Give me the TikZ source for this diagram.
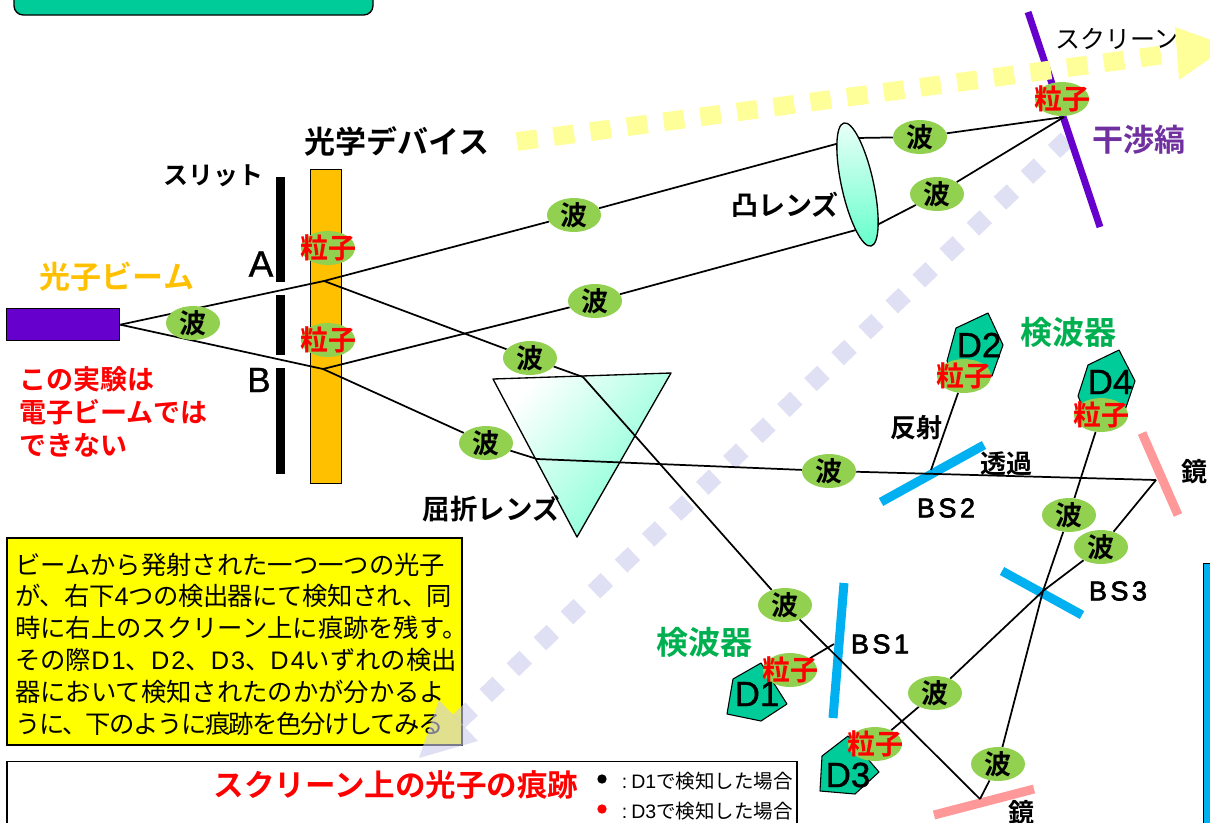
\documentclass[tikz,border=0pt]{standalone}
\usepackage{fontspec}
\setmainfont{Noto Sans CJK JP}
\newfontfamily\cjkb{Noto Sans CJK JP Bold}
\newfontfamily\lat{Liberation Sans}
\newfontfamily\latn[LetterSpace=8]{Liberation Sans}
\newfontfamily\latb[FakeBold=1]{Liberation Sans}
\newfontfamily\latsp[LetterSpace=13,FakeBold=2.5]{Liberation Sans}
\usetikzlibrary{shapes.geometric,backgrounds}
\pgfdeclarelayer{bg}\pgfdeclarelayer{lines}\pgfdeclarelayer{top}
\pgfsetlayers{bg,lines,main,top}
\definecolor{wavegreen}{HTML}{92D050}
\definecolor{detgreen}{HTML}{00CC99}
\definecolor{labgreen}{HTML}{00B050}
\definecolor{bsblue}{HTML}{00B0F0}
\definecolor{mirrorpink}{HTML}{FF9999}
\definecolor{violetbar}{HTML}{6600CC}
\definecolor{fringe}{HTML}{7030A0}
\definecolor{beamy}{HTML}{FFFF99}
\definecolor{beaml}{HTML}{CCCCEE}
\definecolor{amber}{HTML}{FFC000}
\definecolor{aqua}{HTML}{66FFCC}
\definecolor{noteyellow}{HTML}{FFFF00}
\newcommand\px[1]{\fontsize{\fpeval{#1*0.75}pt}{\fpeval{#1*0.9}pt}\selectfont}
\tikzset{
 x=0.75pt,y=-0.75pt,
 blob/.style={ellipse,fill=wavegreen,draw=none,minimum width=40.5pt,minimum height=25.5pt,inner sep=0pt},
 wavetext/.style={inner sep=0pt,font=\cjkb\px{27}},
 parttext/.style={inner sep=0pt,text=red,font=\cjkb\px{28}},
 ray/.style={line width=1.3pt,black,line join=round},
 bar/.style={line width=6.75pt},
 det/.style={fill=detgreen,draw=black,line width=0.8pt,line join=round},
 lab/.style={inner sep=0pt,font=\cjkb\px{26}},
 dname/.style={inner sep=0pt,font=\latb\px{35}},
 bsname/.style={inner sep=0pt,font=\latsp\px{27}},
}
\newcommand\wavenode[2]{\node[blob] (#1) at (#2) {}; \node[wavetext] at (#1) {波};}
\newcommand\partnode[2]{\node[blob] (#1) at (#2) {}; \node[parttext] at (#1) {粒子};}
\begin{document}
\begin{tikzpicture}
\useasboundingbox (0,0) rectangle (1210,822);
\clip (0,0) rectangle (1210,822);
% waves and particles
\wavenode{wa}{193,323}
\wavenode{wb}{574,215}
\wavenode{wc}{595,301}
\wavenode{wd}{530,358}
\wavenode{we}{486,443}
\wavenode{wf}{829,471}
\wavenode{wg}{920,137}
\wavenode{wh}{937,194}
\wavenode{wi}{1069,515}
\wavenode{wj}{1101,547}
\wavenode{wk}{785,605}
\wavenode{wl}{935,693}
\wavenode{wm}{998,764}
\coordinate (slitA) at (324,281);
\coordinate (slitB) at (323,369);
\coordinate (lensAin) at (836,144);
\coordinate (lensAout) at (856,138);
\coordinate (lensBin) at (856,230);
\coordinate (lensBout) at (877,225);
\coordinate (focus) at (1064,117);
\coordinate (kinkD) at (583,377);
\coordinate (kinkE) at (537,459);
\coordinate (mirR) at (1156,480);
\coordinate (mirB) at (980,799);
\coordinate (bsone) at (834,644);
\coordinate (bstwo) at (931,470);
\coordinate (bsthree) at (1043,591);

\begin{pgfonlayer}{bg}
 % boxes
 \draw[fill=detgreen,draw=black,line width=1pt,rounded corners=7pt] (14,-20) rectangle (373,15);
 \node[draw=black,fill=noteyellow,line width=1pt,inner sep=0pt] (note) at (234.5,641.5) {\rule{0pt}{155.25pt}\rule{341.25pt}{0pt}};
 \node[draw=black,fill=white,line width=1pt,inner sep=0pt] (legend) at (402,800.5) {\rule{0pt}{58.5pt}\rule{592.5pt}{0pt}};
 \node[draw=black,fill=bsblue,line width=0.8pt,inner sep=0pt,anchor=north west] (rbox) at (1203,563) {\rule{0pt}{300pt}\rule{30pt}{0pt}};
 % lavender beam
 \coordinate (lavA) at (1067,139);
 \coordinate (lavB) at (455,725);
 \draw[beaml,opacity=.6,line width=13.5pt,dash pattern=on 13.5pt off 14.6pt] (lavA) -- (lavB);
 % prism
 \shade[left color=white,right color=aqua!85!white,shading angle=50] (493,379) -- (671,373) -- (577,537) -- cycle;
 \draw[black,line width=1pt,line join=round] (493,379) -- (671,373) -- (577,537) -- cycle;
 % bars
 \foreach \a/\b in {177/282,295/355,368/474} \fill[black] (276,\a) rectangle (285,\b);
 \draw[violetbar,line width=5.2pt] (1028,12) -- (1100,227);
 \draw[bsblue,bar] (881,502) -- (984,445);
 \draw[bsblue,bar] (844,583) -- (833,718);
 \draw[bsblue,bar] (1002,571) -- (1082,615);
 \draw[mirrorpink,bar] (1142,433) -- (1178,515);
 \draw[mirrorpink,bar] (934,815) -- (1034,789);
 \node[draw=black,fill=amber,line width=1pt,inner sep=0pt,anchor=north west] (dev) at (310,168.5) {\rule{0pt}{235.5pt}\rule{23pt}{0pt}};
\end{pgfonlayer}

% source
\node[draw=black,fill=violetbar,line width=1pt,inner sep=0pt,anchor=north west] (src) at (6,308) {\rule{0pt}{24pt}\rule{84.75pt}{0pt}};

% lens
\shade[top color=white!85!aqua,bottom color=aqua,rotate around={12.4:(857.5,184.5)}] (857.5,184.5) ellipse [x radius=16,y radius=63];
\draw[black,line width=1pt,rotate around={12.4:(857.5,184.5)}] (857.5,184.5) ellipse [x radius=16,y radius=63];

% detectors
\draw[det] (988,313) -- (1003,345) -- (992,376) -- (955,378) -- (947,361) -- (956,328) -- cycle;
\draw[det] (1119,350) -- (1135,381) -- (1124,413) -- (1086,415) -- (1078,396) -- (1088,365) -- cycle;
\draw[det] (761,663) -- (787,704) -- (761,721) -- (727,714) -- (733,679) -- cycle;
\draw[det] (848,736) -- (879,772) -- (855,794) -- (820,791) -- (822,756) -- cycle;

\partnode{pa}{328,248}
\partnode{pb}{328,340}
\partnode{pc}{1062,99}
\partnode{pd}{964,376}
\partnode{pe}{1101,415}
\partnode{pf}{790,670}
\partnode{pg}{875,744}

\node[dname] at (979,345) {D2};
\node[dname] at (1110,382) {D4};
\node[dname] at (757,694) {D1};
\node[dname] at (848,775) {D3};

\begin{pgfonlayer}{lines}
 \draw[ray] (src.east) -- (slitA) -- (wb) -- (lensAin);
 \draw[ray] (lensAout) -- (wg) -- (focus);
 \draw[ray] (src.east) -- (slitB) -- (wc) -- (lensBin);
 \draw[ray] (lensBout) -- (wh) -- (focus);
 \draw[ray] (slitA) -- (wd) -- (kinkD) -- (wk) -- (mirB);
 \draw[ray] (slitB) -- (we) -- (kinkE) -- (wf) -- (mirR);
 \draw[ray] (mirR) -- (wj) -- (bsthree) -- (wl) -- (pg);
 \draw[ray] (mirB) -- (wm) -- (bsthree) -- (wi) -- (pe);
 \draw[ray] (bstwo) -- (pd);
 \draw[ray] (bsone) -- (pf);
\end{pgfonlayer}

% labels
\node[lab,font=\cjkb\px{25}] (tslit) at (213,176) {スリット};
\node[lab,font=\cjkb\px{31}] (tdev) at (397,141) {光学デバイス};
\node[dname,font=\latb\px{37}] (ta) at (261,264) {A};
\node[dname,font=\latb\px{35}] (tb) at (259,380) {B};
\node[lab,font=\cjkb\px{31},text=amber] (tbeam) at (117,277) {光子ビーム};
\node[anchor=north west,align=left,inner sep=0pt,text=red,font=\cjkb\fontsize{20.25pt}{24.75pt}\selectfont] (tno) at (19,366) {この実験は\\電子ビームでは\\できない};
\node[lab,font=\cjkb\px{27}] (tconv) at (785,205) {凸レンズ};
\node[lab,font=\cjkb\px{27.5}] (tpris) at (491,509) {屈折レンズ};
\node[lab,font=\px{25}] (tscr) at (1117,39) {スクリーン};
\node[lab,font=\cjkb\px{31},text=fringe] (tfr) at (1139,140) {干渉縞};
\node[lab,font=\cjkb\px{32},text=labgreen] (tdet1) at (1068,332) {検波器};
\node[lab,font=\cjkb\px{32},text=labgreen] (tdet2) at (704,642) {検波器};
\node[lab] (trefl) at (916,428) {反射};
\node[lab] (ttrans) at (1006,464) {透過};
\node[lab] (tm1) at (1194,472) {鏡};
\node[lab] (tm2) at (1021,813) {鏡};
\node[bsname] (tbs1) at (880,644) {BS1};
\node[bsname] (tbs2) at (946,508) {BS2};
\node[bsname] (tbs3) at (1118,591) {BS3};

% note text
\node[inner sep=0pt,anchor=north west,align=left,font=\fontsize{19pt}{23.85pt}\selectfont] (ttext) at (15,552.5) {ビームから発射された一つ一つの光子\\{\addfontfeature{LetterSpace=-2}が、右下{\lat 4}つの検出器にて検知され、同}\\時に右上のスクリーン上に痕跡を残す。\\その際{\latn D1}、{\latn D2}、{\latn D3}、{\latn D4}いずれの検出\\器において検知されたのかが分かるよ\\{\addfontfeature{LetterSpace=-6}うに、下のように痕跡を色分けしてみる}};
% lavender arrowhead, translucent over the note
\fill[beaml,opacity=.6] (419,758) -- (439,700) -- (478,741) -- cycle;

% legend text
\node[lab,font=\cjkb\px{30.5},text=red] (tleg) at (396,785) {スクリーン上の光子の痕跡};
\node[circle,fill=black,inner sep=0pt,minimum size=7pt] (dot1) at (602,779) {};
\node[circle,fill=red,inner sep=0pt,minimum size=7pt] (dot2) at (602,809) {};
\node[inner sep=0pt,anchor=east,font=\px{19.5}] (tl1) at (793,781) {{\lat :\hspace{3pt}D1}で検知した場合};
\node[inner sep=0pt,anchor=east,font=\px{19.5}] (tl2) at (793,811) {{\lat :\hspace{3pt}D3}で検知した場合};

% yellow beam
\begin{pgfonlayer}{top}
 \coordinate (yelA) at (517,141.5);
 \coordinate (yelB) at (1177,53);
 \draw[beamy,line width=14pt,dash pattern=on 15.5pt off 12.25pt] (yelA) -- (yelB);
 \fill[beamy] (1175,27) -- (1179,80) -- (1228,46) -- cycle;
\end{pgfonlayer}
\end{tikzpicture}
\end{document}
